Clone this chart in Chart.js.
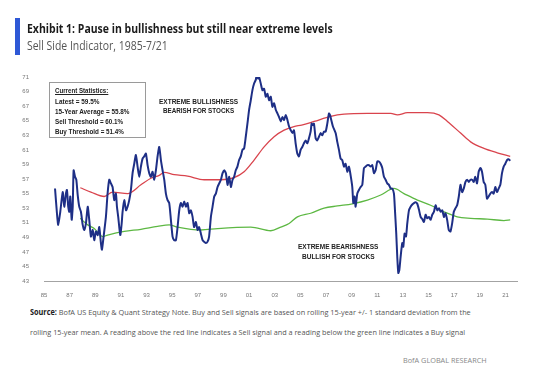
<!DOCTYPE html>
<html>
<head>
<meta charset="utf-8">
<script src="https://cdn.jsdelivr.net/npm/chart.js@4.4.0/dist/chart.umd.min.js"></script>
<style>
  body { margin: 0; background: #fff; }
  #wrap { position: relative; width: 554px; height: 368px; overflow: hidden; background: #fff; }
  #chart { position: absolute; left: 0; top: 0; }
  .t { position: absolute; white-space: nowrap; transform-origin: 0 50%; }
  .title { font: 700 12.5px/12.5px "Open Sans", sans-serif; color: #1b1b1b; }
  .sub { font: 400 12px/12px "Open Sans", sans-serif; color: #555; }
  .note { font: 700 7px/7px "Liberation Sans", Arial, sans-serif; color: #222; }
  .stat { font: 700 6.5px/6.5px "Liberation Sans", Arial, sans-serif; color: #222; }
  .foot { font: 400 8px/8px "Open Sans", sans-serif; color: #555; }
  #bar { position: absolute; left: 15px; top: 18px; width: 5px; height: 37px; background: #2e58d6; }
  #box { position: absolute; left: 49px; top: 82px; width: 97px; height: 56px; border: 1px solid #9a9a9a; box-sizing: border-box; }
</style>
</head>
<body>
<div id="wrap">
  <canvas id="chart" width="554" height="300"></canvas>

  <div id="bar"></div>
  <div class="t title" style="left:27px;top:23px" data-w="306">Exhibit 1: Pause in bullishness but still near extreme levels</div>
  <div class="t sub" style="left:27px;top:40px" data-w="141">Sell Side Indicator, 1985-7/21</div>

  <div id="box"></div>
  <div class="t stat" style="left:55px;top:87.5px;text-decoration:underline" data-w="53">Current Statistics:</div>
  <div class="t stat" style="left:55px;top:99px" data-w="44.5">Latest = 59.5%</div>
  <div class="t stat" style="left:55px;top:109px" data-w="74.5">15-Year Average = 55.8%</div>
  <div class="t stat" style="left:55px;top:119px" data-w="68.5">Sell Threshold = 60.1%</div>
  <div class="t stat" style="left:55px;top:128.5px" data-w="68.5">Buy Threshold = 51.4%</div>

  <div class="t note" style="left:159px;top:97.5px" data-w="79">EXTREME BULLISHNESS</div>
  <div class="t note" style="left:162.5px;top:107px" data-w="71">BEARISH FOR STOCKS</div>
  <div class="t note" style="left:298px;top:243px" data-w="80">EXTREME BEARISHNESS</div>
  <div class="t note" style="left:301.5px;top:252.5px" data-w="72.5">BULLISH FOR STOCKS</div>

  <div class="t foot" style="left:30px;top:308px" data-w="441"><b style="color:#222">Source:</b> BofA US Equity &amp; Quant Strategy Note. Buy and Sell signals are based on rolling 15-year +/- 1 standard deviation from the</div>
  <div class="t foot" style="left:30px;top:328px" data-w="435">rolling 15-year mean. A reading above the red line indicates a Sell signal and a reading below the green line indicates a Buy signal</div>
  <div class="t foot" style="left:403px;top:356px;color:#888" data-w="84">BofA GLOBAL RESEARCH</div>
</div>

<script>
// ---- data ----

// Sell Side Indicator (% allocation), decimal years
const indicatorYears = [
  1985.86, 1986.01, 1986.11, 1986.27, 1986.46, 1986.58, 1986.71, 1986.79, 1986.89, 1986.97,
  1987.05, 1987.16, 1987.24, 1987.31, 1987.42, 1987.52, 1987.63, 1987.75, 1987.88, 1988.02,
  1988.14, 1988.27, 1988.41, 1988.53, 1988.66, 1988.80, 1988.92, 1989.05, 1989.19, 1989.31,
  1989.44, 1989.52, 1989.65, 1989.83, 1989.96, 1990.09, 1990.22, 1990.35, 1990.48, 1990.61,
  1990.69, 1990.79, 1990.95, 1991.06, 1991.13, 1991.26, 1991.40, 1991.52, 1991.65, 1991.78,
  1991.91, 1992.04, 1992.17, 1992.30, 1992.43, 1992.56, 1992.69, 1992.82, 1992.95, 1993.08,
  1993.21, 1993.34, 1993.47, 1993.60, 1993.73, 1993.86, 1993.99, 1994.12, 1994.25, 1994.38,
  1994.51, 1994.64, 1994.77, 1994.90, 1995.03, 1995.16, 1995.29, 1995.42, 1995.55, 1995.68,
  1995.81, 1995.94, 1996.07, 1996.20, 1996.33, 1996.46, 1996.59, 1996.71, 1996.85, 1996.98,
  1997.10, 1997.24, 1997.37, 1997.49, 1997.63, 1997.76, 1997.88, 1998.02, 1998.15, 1998.28,
  1998.41, 1998.54, 1998.67, 1998.80, 1998.93, 1999.06, 1999.19, 1999.32, 1999.45, 1999.58,
  1999.71, 1999.83, 1999.96, 2000.09, 2000.22, 2000.35, 2000.48, 2000.61, 2000.74, 2000.87,
  2001.00, 2001.13, 2001.26, 2001.39, 2001.52, 2001.60, 2001.70, 2001.78, 2001.91, 2002.04,
  2002.17, 2002.30, 2002.43, 2002.56, 2002.69, 2002.82, 2002.95, 2003.08, 2003.21, 2003.34,
  2003.47, 2003.60, 2003.73, 2003.86, 2003.99, 2004.12, 2004.25, 2004.38, 2004.50, 2004.63,
  2004.76, 2004.89, 2005.02, 2005.15, 2005.28, 2005.41, 2005.54, 2005.67, 2005.80, 2005.88,
  2005.96, 2006.06, 2006.19, 2006.32, 2006.45, 2006.58, 2006.71, 2006.84, 2006.97, 2007.10,
  2007.23, 2007.31, 2007.41, 2007.54, 2007.75, 2007.88, 2008.01, 2008.14, 2008.27, 2008.40,
  2008.53, 2008.66, 2008.79, 2008.92, 2009.05, 2009.13, 2009.23, 2009.31, 2009.44, 2009.57,
  2009.70, 2009.83, 2009.96, 2010.09, 2010.22, 2010.35, 2010.48, 2010.61, 2010.74, 2010.87,
  2011.00, 2011.13, 2011.26, 2011.39, 2011.52, 2011.65, 2011.78, 2011.91, 2012.04, 2012.17,
  2012.30, 2012.38, 2012.48, 2012.56, 2012.64, 2012.72, 2012.82, 2012.95, 2013.03, 2013.13,
  2013.24, 2013.34, 2013.47, 2013.60, 2013.73, 2013.86, 2013.99, 2014.12, 2014.25, 2014.38,
  2014.51, 2014.64, 2014.77, 2014.90, 2015.03, 2015.16, 2015.29, 2015.42, 2015.55, 2015.68,
  2015.81, 2015.94, 2016.07, 2016.20, 2016.32, 2016.45, 2016.58, 2016.71, 2016.84, 2016.97,
  2017.10, 2017.23, 2017.36, 2017.49, 2017.62, 2017.75, 2017.88, 2018.01, 2018.14, 2018.27,
  2018.40, 2018.52, 2018.65, 2018.78, 2018.91, 2019.04, 2019.17, 2019.30, 2019.43, 2019.56,
  2019.69, 2019.82, 2019.95, 2020.08, 2020.21, 2020.34, 2020.47, 2020.60, 2020.73, 2020.86,
  2020.99, 2021.12, 2021.25, 2021.38
];
const indicatorValues = [
  55.7, 52.3, 50.7, 52.5, 55.2, 53.2, 55.0, 55.5, 53.2, 52.5,
  54.6, 51.4, 53.2, 58.2, 57.3, 56.9, 54.8, 53.2, 52.5, 50.7,
  50.0, 50.9, 53.2, 51.4, 49.1, 50.0, 48.6, 49.8, 49.3, 50.4,
  48.2, 47.3, 49.1, 51.8, 55.0, 56.9, 56.4, 55.9, 54.1, 55.0,
  53.2, 51.8, 49.3, 50.9, 52.5, 54.1, 52.7, 53.2, 54.1, 55.5,
  57.8, 59.1, 60.3, 58.7, 57.3, 58.7, 59.8, 60.1, 60.5, 58.9,
  57.8, 57.3, 58.0, 56.9, 58.2, 60.1, 61.4, 59.6, 58.2, 56.9,
  55.0, 54.1, 53.7, 51.4, 49.1, 48.6, 48.6, 50.4, 52.7, 53.7,
  53.2, 53.9, 53.2, 53.7, 52.3, 52.7, 51.8, 50.4, 51.1, 50.0,
  50.4, 49.5, 48.6, 48.4, 48.2, 48.4, 49.1, 51.8, 53.2, 54.6,
  55.0, 55.9, 56.4, 56.9, 57.8, 58.2, 57.8, 56.2, 57.3, 55.9,
  56.9, 57.3, 58.2, 58.7, 59.6, 60.1, 61.0, 61.2, 62.8, 64.6,
  66.5, 67.8, 69.2, 70.1, 70.6, 71.3, 70.8, 71.0, 70.1, 69.2,
  69.4, 68.3, 68.7, 67.8, 68.3, 66.9, 67.4, 66.5, 66.0, 65.5,
  64.9, 65.5, 65.1, 65.8, 65.1, 64.2, 63.7, 63.3, 63.7, 61.9,
  60.5, 60.1, 61.0, 61.4, 61.9, 62.3, 61.9, 62.6, 63.5, 64.6,
  64.4, 64.6, 62.6, 62.3, 62.8, 63.3, 63.0, 63.5, 63.5, 64.6,
  66.0, 65.8, 65.1, 64.2, 63.3, 62.1, 61.0, 59.8, 59.6, 58.7,
  59.1, 58.0, 58.7, 57.5, 55.9, 53.7, 54.6, 53.2, 55.0, 55.5,
  55.9, 56.2, 58.5, 58.7, 58.9, 58.9, 58.7, 58.9, 57.8, 58.2,
  59.4, 59.4, 59.1, 58.5, 57.3, 56.9, 56.4, 56.2, 55.7, 55.7,
  55.0, 52.7, 49.5, 46.3, 44.1, 44.5, 46.3, 48.2, 47.7, 49.5,
  49.1, 50.9, 52.7, 53.2, 53.5, 53.7, 53.8, 53.6, 52.8, 51.8,
  51.5, 51.1, 52.1, 51.6, 51.8, 51.4, 52.1, 52.5, 53.4, 52.7,
  53.0, 52.5, 52.7, 51.8, 52.3, 51.4, 50.0, 49.8, 50.9, 52.5,
  53.0, 53.4, 54.6, 56.2, 55.2, 55.7, 56.6, 56.9, 56.6, 56.9,
  56.9, 56.6, 57.3, 56.4, 58.0, 58.5, 58.0, 56.6, 56.2, 54.3,
  54.6, 55.0, 55.2, 55.0, 55.9, 55.2, 55.7, 56.2, 57.8, 58.7,
  59.1, 59.6, 59.7, 59.5
];

// Sell threshold (rolling 15y mean + 1 sd)
const sellYears = [1987.83, 1988.66, 1989.70, 1990.35, 1991.52, 1992.56, 1993.34, 1993.99, 1994.38, 1995.16,
  1996.20, 1997.49, 1998.80, 1999.83, 2000.61, 2001.39, 2002.17, 2002.95, 2003.73, 2004.50,
  2005.10, 2006.07, 2007.37, 2008.41, 2010.23, 2012.05, 2012.57, 2013.35, 2014.91, 2015.81,
  2016.47, 2017.50, 2018.28, 2019.32, 2020.36, 2021.37];
const sellValues = [55.8, 55.2, 54.6, 55.2, 55.0, 56.2, 57.1, 57.5, 57.9, 57.6,
  57.4, 56.9, 56.9, 57.2, 58.0, 59.6, 61.4, 62.8, 63.7, 64.2,
  64.4, 64.9, 65.6, 65.9, 66.0, 66.0, 65.8, 66.1, 66.1, 65.8,
  64.9, 63.3, 62.1, 61.2, 60.6, 60.1];

// Buy threshold (rolling 15y mean - 1 sd)
const buyYears = [1987.83, 1988.41, 1988.92, 1989.57, 1989.96, 1991.26, 1992.56, 1993.86, 1994.77, 1995.42,
  1997.24, 1998.54, 2001.13, 2002.69, 2003.47, 2004.12, 2004.77, 2005.81, 2006.85, 2007.89,
  2009.06, 2010.23, 2011.27, 2012.30, 2013.08, 2014.13, 2015.16, 2016.20, 2017.24, 2018.28,
  2019.58, 2020.88, 2021.37];
const buyValues = [51.6, 50.7, 50.2, 49.1, 49.3, 49.8, 50.1, 50.5, 50.7, 50.4,
  50.0, 50.2, 50.4, 49.9, 50.4, 50.9, 51.8, 52.3, 53.0, 53.3,
  53.6, 54.1, 54.8, 55.7, 55.0, 54.1, 53.4, 52.5, 51.8, 51.6,
  51.5, 51.3, 51.4];

// x axis tick labels
const tickYears = [1985, 1987, 1989, 1991, 1993, 1995, 1997, 1999, 2001, 2003,
  2005, 2007, 2009, 2011, 2013, 2015, 2017, 2019, 2021];
const tickLabels = ['85', '87', '89', '91', '93', '95', '97', '99', '01', '03',
  '05', '07', '09', '11', '13', '15', '17', '19', '21'];

// ---- chart ----

function toPoints(xs, ys) {
  return xs.map((x, i) => ({ x: x, y: ys[i] }));
}

new Chart(document.getElementById('chart'), {
  type: 'line',
  data: {
    datasets: [
      {
        label: 'Sell Side Indicator',
        data: toPoints(indicatorYears, indicatorValues),
        borderColor: '#1e2f86',
        borderWidth: 2,
        pointRadius: 0,
        tension: 0.2
      },
      {
        label: 'Sell Threshold',
        data: toPoints(sellYears, sellValues),
        borderColor: '#d9444d',
        borderWidth: 1.3,
        pointRadius: 0,
        cubicInterpolationMode: 'monotone'
      },
      {
        label: 'Buy Threshold',
        data: toPoints(buyYears, buyValues),
        borderColor: '#5db843',
        borderWidth: 1.3,
        pointRadius: 0,
        cubicInterpolationMode: 'monotone'
      }
    ]
  },
  options: {
    responsive: false,
    animation: false,
    devicePixelRatio: 1,
    layout: { padding: { top: 77, right: 37, left: 0, bottom: 0 } },
    plugins: { legend: { display: false }, tooltip: { enabled: false } },
    scales: {
      x: {
        type: 'linear',
        min: 1985,
        max: 2021.9,
        grid: { display: false },
        border: { display: true, color: '#a3a3a3', width: 1 },
        ticks: {
          autoSkip: false,
          maxRotation: 0,
          padding: 3,
          color: '#777',
          font: { family: 'Liberation Sans', size: 6 },
          callback: (v) => tickLabels[tickYears.indexOf(v)]
        },
        afterBuildTicks: (s) => { s.ticks = tickYears.map(v => ({ value: v })); },
        afterFit: (s) => { s.height = 19; }
      },
      y: {
        min: 43,
        max: 71,
        grid: { display: false },
        border: { display: false },
        ticks: {
          stepSize: 2,
          padding: 7,
          color: '#777',
          font: { family: 'Liberation Sans', size: 6 }
        },
        afterFit: (s) => { s.width = 44; }
      }
    }
  }
});

// squeeze the html labels to the widths measured on the picture
function fitText() {
  document.querySelectorAll('[data-w]').forEach(el => {
    el.style.transform = 'scaleX(' + (el.dataset.w / el.offsetWidth) + ')';
  });
}
fitText();
document.fonts.ready.then(fitText);
</script>
</body>
</html>
